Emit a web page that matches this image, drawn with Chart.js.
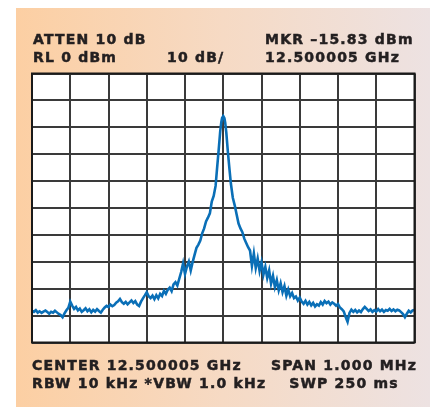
<!DOCTYPE html>
<html>
<head>
<meta charset="utf-8">
<script src="https://cdn.jsdelivr.net/npm/chart.js@4"></script>
<style>
  html, body { margin: 0; padding: 0; background: #fff; }
  #wrap { width: 430px; height: 408px; position: relative; }
</style>
</head>
<body>
<div id="wrap"><canvas id="spectrum"></canvas></div>
<script>
// Frequency offset from centre (kHz) and measured level (dBm)
const freqOffsetKHz = [
  -500, -495, -490, -485, -480, -475, -470, -465, -460, -455, -450, -445, -440, -435, -430, -425,
  -420, -415, -410, -405, -400, -395, -390, -385, -380, -375, -370, -365, -360, -355, -350, -345,
  -340, -335, -330, -325, -320, -315, -310, -305, -300, -295, -290, -285, -280, -275, -270, -265,
  -260, -255, -250, -245, -240, -235, -230, -225, -220, -215, -210, -205, -200, -195, -190, -185,
  -180, -175, -170, -165, -160, -155, -150, -145, -140, -135, -130, -125, -120, -115, -110, -105,
  -100, -95, -90, -85, -80, -75, -70, -65, -60, -55, -50, -45, -40, -35, -30, -25,
  -20, -16, -12, -8, -5, -3, 0, 3, 5, 8, 12, 16, 20, 25, 30, 35,
  40, 45, 50, 55, 60, 65, 70, 75, 80, 85, 90, 95, 100, 105, 110, 115,
  120, 125, 130, 135, 140, 145, 150, 155, 160, 165, 170, 175, 180, 185, 190, 195,
  200, 205, 210, 215, 220, 225, 230, 235, 240, 245, 250, 255, 260, 265, 270, 275,
  280, 285, 290, 295, 300, 305, 310, 315, 320, 325, 330, 335, 340, 345, 350, 355,
  360, 365, 370, 375, 380, 385, 390, 395, 400, 405, 410, 415, 420, 425, 430, 435,
  440, 445, 450, 455, 460, 465, 470, 475, 480, 485, 490, 495, 500
];
const levelDbm = [
  -88.2, -88.6, -88.0, -88.9, -88.4, -89.0, -88.5, -88.1, -88.7, -89.3, -88.6, -88.9, -88.2, -88.8, -89.4, -89.8,
  -90.6, -89.2, -88.0, -87.1, -84.8, -86.3, -87.5, -86.8, -88.1, -87.4, -88.6, -88.0, -87.3, -88.4, -87.7, -88.8,
  -87.9, -88.5, -87.6, -88.3, -88.9, -87.8, -87.0, -86.4, -86.8, -85.9, -86.5, -86.1, -85.2, -84.7, -83.8, -85.0,
  -85.6, -84.9, -85.8, -85.1, -84.4, -85.3, -84.6, -85.9, -86.4, -84.8, -83.6, -82.5, -81.3, -82.8, -83.5, -82.6,
  -83.9, -82.4, -83.6, -81.9, -82.7, -80.8, -81.9, -80.4, -79.6, -80.9, -78.4, -77.6, -78.8, -76.3, -73.8, -70.6,
  -74.5, -71.8, -69.9, -73.2, -70.1, -67.4, -64.8, -63.6, -62.1, -59.4, -57.6, -55.0, -53.6, -52.0, -47.6, -45.5,
  -41.8, -35.0, -28.5, -21.6, -18.0, -16.5, -15.8, -16.6, -18.2, -22.0, -29.0, -35.2, -41.0, -46.2, -49.0, -52.4,
  -55.8, -57.6, -59.0, -61.4, -63.0, -64.6, -65.8, -71.5, -66.9, -72.3, -68.8, -73.4, -70.2, -74.8, -71.9, -76.0,
  -73.2, -78.1, -75.2, -79.4, -76.8, -80.6, -78.0, -81.3, -79.0, -82.6, -80.3, -82.8, -81.6, -83.5, -82.9, -84.4,
  -83.3, -84.8, -85.6, -84.5, -85.9, -84.9, -86.2, -85.3, -86.6, -85.8, -86.3, -85.0, -85.9, -84.6, -85.4, -84.8,
  -85.9, -85.1, -85.6, -86.3, -85.7, -87.0, -87.6, -88.4, -90.5, -92.3, -89.0, -87.8, -88.6, -87.9, -88.8, -88.1,
  -88.7, -87.6, -86.8, -87.5, -88.3, -87.7, -88.6, -88.0, -88.5, -87.6, -88.4, -87.8, -88.6, -87.9, -88.2, -87.5,
  -88.3, -87.7, -88.4, -87.8, -88.1, -88.7, -89.4, -90.6, -89.3, -88.2, -88.8, -88.1, -87.9
];

// Instrument annotations
const headerLeft = ['ATTEN 10 dB', 'RL 0 dBm'];
const headerScale = '10 dB/';
const headerRight = ['MKR \u201315.83 dBm', '12.500005 GHz'];
const footerLeft = ['CENTER 12.500005 GHz', 'RBW 10 kHz *VBW 1.0 kHz'];
const footerRight = ['SPAN 1.000 MHz', 'SWP 250 ms'];

const points = freqOffsetKHz.map((f, i) => ({ x: f, y: levelDbm[i] }));

function label(ctx, text, x, y) {
  ctx.strokeText(text, x, y);
  ctx.fillText(text, x, y);
}

// fond dégradé + panneau blanc
const backdrop = {
  id: 'backdrop',
  beforeDraw(chart) {
    const { ctx, chartArea: a, width, height } = chart;
    ctx.save();
    ctx.fillStyle = '#fff';
    ctx.fillRect(0, 0, width, height);
    const g = ctx.createLinearGradient(16, 0, width, 0);
    g.addColorStop(0, '#fccfa3');
    g.addColorStop(0.5, '#f6dac4');
    g.addColorStop(1, '#ede2e2');
    ctx.fillStyle = g;
    ctx.fillRect(16, 8, width - 16, height - 9);
    ctx.fillStyle = '#fff';
    ctx.fillRect(a.left, a.top, a.right - a.left, a.bottom - a.top);
    ctx.restore();
  },
  afterDraw(chart) {
    const { ctx, chartArea: a } = chart;
    ctx.save();
    ctx.strokeStyle = '#1a1a1a';
    ctx.lineWidth = 2;
    ctx.strokeRect(a.left, a.top, a.right - a.left, a.bottom - a.top);

    ctx.fillStyle = '#231f20';
    ctx.strokeStyle = '#231f20';
    ctx.lineWidth = 0.5;
    ctx.font = 'bold 14px "DejaVu Sans"';
    ctx.letterSpacing = '1.2px';
    ctx.textBaseline = 'alphabetic';
    ctx.textAlign = 'left';
    label(ctx, headerLeft[0], 33, 44);
    label(ctx, headerLeft[1], 33, 62);
    label(ctx, headerScale, 167, 62);
    label(ctx, headerRight[0], 265, 44);
    label(ctx, headerRight[1], 265, 62);
    label(ctx, footerLeft[0], 32, 370);
    label(ctx, footerLeft[1], 32, 388);
    ctx.textAlign = 'center';
    label(ctx, footerRight[0], 344, 370);
    label(ctx, footerRight[1], 344, 388);
    ctx.restore();
  }
};

const gridStyle = { color: '#3a3a3a', lineWidth: 2, drawTicks: false };

new Chart(document.getElementById('spectrum'), {
  type: 'line',
  data: {
    datasets: [{
      data: points,
      borderColor: '#0a6fb7',
      borderWidth: 2.6,
      pointRadius: 0,
      tension: 0,
      fill: false
    }]
  },
  options: {
    responsive: true,
    maintainAspectRatio: false,
    animation: false,
    layout: { padding: { left: 32, right: 15.5, top: 73.5, bottom: 65.5 } },
    plugins: { legend: { display: false }, tooltip: { enabled: false } },
    scales: {
      x: {
        type: 'linear', min: -500, max: 500,
        ticks: { display: false, stepSize: 100 },
        grid: gridStyle,
        border: { display: false },
        afterFit: s => { s.height = 0; }
      },
      y: {
        min: -100, max: 0,
        ticks: { display: false, stepSize: 10 },
        grid: gridStyle,
        border: { display: false },
        afterFit: s => { s.width = 0; }
      }
    }
  },
  plugins: [backdrop]
});
</script>
</body>
</html>
